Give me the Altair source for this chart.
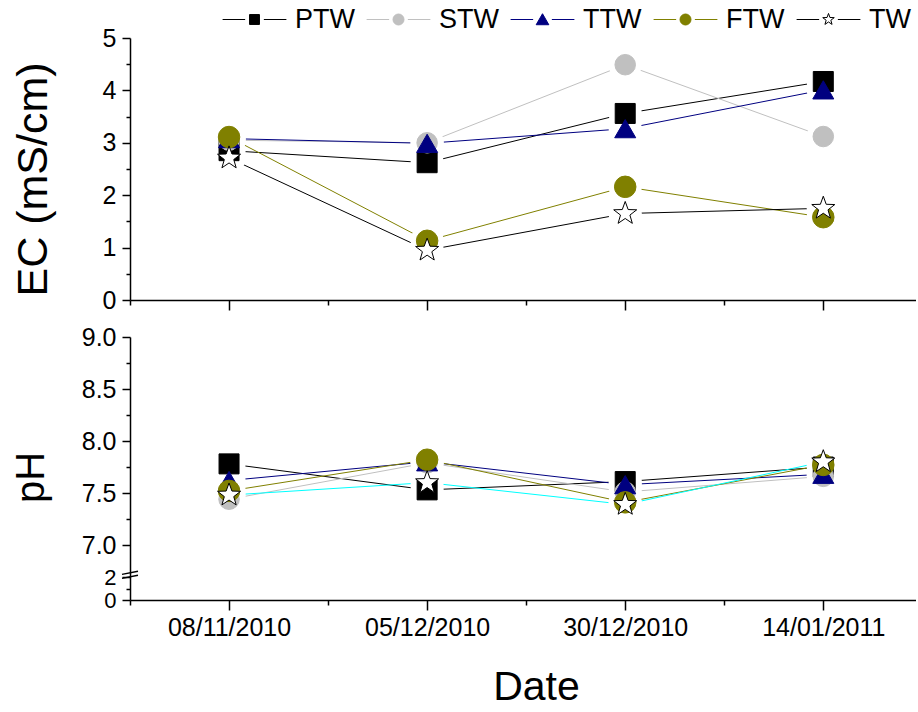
import json
import altair as alt
import pandas as pd

# ---------------- data ----------------
dates = ["08/11/2010", "05/12/2010", "30/12/2010", "14/01/2011"]
series = ["PTW", "STW", "TTW", "FTW", "TW"]

ec_ptw = [2.85, 2.62, 3.56, 4.17]
ec_stw = [3.05, 3.00, 4.49, 3.12]
ec_ttw = [3.08, 2.99, 3.27, 4.01]
ec_ftw = [3.11, 1.13, 2.16, 1.58]
ec_tw = [2.71, 0.95, 1.65, 1.75]

ph_ptw = [7.78, 7.53, 7.61, 7.75]
ph_stw = [7.44, 7.79, 7.51, 7.66]
ph_ttw = [7.62, 7.80, 7.58, 7.68]
ph_ftw = [7.52, 7.82, 7.41, 7.77]
ph_tw = [7.48, 7.60, 7.39, 7.80]

ec_ticks = [0, 0.5, 1, 1.5, 2, 2.5, 3, 3.5, 4, 4.5, 5]
ph_ticks = [0, 1, 2, 7, 7.25, 7.5, 7.75, 8, 8.25, 8.5, 8.75, 9]
ph_major = [0, 2, 7, 7.5, 8, 8.5, 9]
x_ticks = [0.5, 1, 1.5, 2, 2.5, 3, 3.5, 4]
break_at = [{"idx": 0.5, "ph": 4.4}]

# ---------------- styles ----------------
FONT = "Liberation Sans"
line_colors_ec = ["#000000", "#C0C0C0", "#000080", "#808000", "#000000"]
line_colors_ph = ["#000000", "#C0C0C0", "#000080", "#808000", "#00FFFF"]
fill_colors = ["#000000", "#C0C0C0", "#000080", "#808000", "#FFFFFF"]
edge_colors = ["#000000", "#C0C0C0", "#000080", "#808000", "#000000"]
edge_widths = [1, 1, 1, 1, 1.8]
STAR = ("M0,-1.1L0.265,-0.364L1.046,-0.34L0.428,0.139L0.647,0.89L0,0.45"
        "L-0.647,0.89L-0.428,0.139L-1.046,-0.34L-0.265,-0.364Z")
marker_shapes = ["square", "circle", "triangle-up", "circle", STAR]
marker_sizes = [400, 484, 625, 484, 560]
SEG = "M-5.8,0H-1.7M1.7,0H5.8"
legend_shapes = [
    "M-0.9,-0.9H0.9V0.9H-0.9Z" + SEG,
    "M-1,0A1,1,0,1,1,1,0A1,1,0,1,1,-1,0Z" + SEG,
    "M0,-1.05L1.15,0.95H-1.15Z" + SEG,
    "M-1,0A1,1,0,1,1,1,0A1,1,0,1,1,-1,0Z" + SEG,
    STAR + SEG,
]
BREAK = "M-1,0.05L1,-0.35M-1,0.55L1,0.15"

ec_vals = [ec_ptw, ec_stw, ec_ttw, ec_ftw, ec_tw]
ph_vals = [ph_ptw, ph_stw, ph_ttw, ph_ftw, ph_tw]
rows = []
for s, ev, pv in zip(series, ec_vals, ph_vals):
    for i, d in enumerate(dates):
        rows.append({"series": s, "idx": i + 1, "date": d, "ec": ev[i], "ph": pv[i]})
df = pd.DataFrame(rows)
brk = pd.DataFrame(break_at)

# ---------------- axes ----------------
common = dict(domainColor="black", domainWidth=1.5, tickColor="black", tickWidth=1.5,
              labelColor="black", labelFont=FONT, titleFont=FONT,
              titleColor="black", titleFontWeight="normal", grid=False,
              labelOverlap=False, labelFlush=False)

xscale = alt.Scale(domain=[0.5, 4.468], nice=False, zero=False)
x_tick_size = {"condition": {"test": "datum.value % 1 !== 0", "value": 5}, "value": 10}
x_label_expr = "datum.value % 1 === 0 ? " + json.dumps(dates) + "[datum.value - 1] : ''"

x_top = alt.X("idx:Q", scale=xscale,
              axis=alt.Axis(values=x_ticks, labels=False, title=None, labelFontSize=25,
                            tickSize=x_tick_size, **common))
x_bot = alt.X("idx:Q", scale=xscale,
              axis=alt.Axis(values=x_ticks, labelExpr=x_label_expr, title="Date",
                            labelFontSize=25,
                            titleFontSize=41, titlePadding=27, labelPadding=5,
                            titleX=406, tickSize=x_tick_size, **common))

y_top = alt.Y("ec:Q", scale=alt.Scale(domain=[0, 5], nice=False, zero=False),
              axis=alt.Axis(values=ec_ticks, title="EC (mS/cm)", titleFontSize=43,
                            titleX=-75, titleY=141, labelPadding=6, labelFontSize=25,
                            labelExpr="datum.value % 1 === 0 ? format(datum.value, 'd') : ''",
                            tickSize={"condition": {"test": "datum.value % 1 !== 0", "value": 4},
                                      "value": 8},
                            **common))
minor_ph = "indexof(" + json.dumps(ph_major) + ", datum.value) < 0"
y_bot = alt.Y("ph:Q",
              scale=alt.Scale(domain=[0, 2, 6.75, 9], range=[263, 240, 234, 0],
                              nice=False, zero=False),
              axis=alt.Axis(values=ph_ticks, title="pH", titleFontSize=40,
                            titleX=-79, titleY=140, labelPadding=6,
                            labelFontSize={"condition": {"test": "datum.value < 5", "value": 22},
                                           "value": 25},
                            labelExpr=minor_ph + " ? '' : (datum.value < 5 ? format(datum.value, 'd') : format(datum.value, '.1f'))",
                            tickSize={"condition": {"test": minor_ph, "value": 4}, "value": 8},
                            **common))


def sc(rng):
    return alt.Scale(domain=series, range=rng)


def panel(x, y, line_colors, with_legend):
    base = alt.Chart(df)
    lines = base.mark_line(strokeWidth=1).encode(
        x=x, y=y, color=alt.Color("series:N", scale=sc(line_colors), legend=None))
    halo = base.mark_circle(size=1100, color="white", opacity=1).encode(x=x, y=y)
    pts = base.mark_point(filled=True, opacity=1).encode(
        x=x, y=y,
        shape=alt.Shape("series:N", scale=sc(marker_shapes), legend=None),
        fill=alt.Fill("series:N", scale=sc(fill_colors), legend=None),
        stroke=alt.Stroke("series:N", scale=sc(edge_colors), legend=None),
        size=alt.Size("series:N", scale=sc(marker_sizes), legend=None),
        strokeWidth=alt.StrokeWidth("series:N", scale=sc(edge_widths), legend=None),
    )
    layers = [lines, halo, pts]
    if with_legend:
        leg = alt.Legend(orient="none", legendX=111, legendY=-32, direction="horizontal",
                         columns=5, title=None, labelFont=FONT, labelFontSize=27,
                         labelColor="black", labelOffset=27, columnPadding=9,
                         symbolSize=121, symbolStrokeWidth=1, symbolOpacity=1,
                         padding=0, gridAlign="none", labelBaseline="middle")
        legend_layer = base.mark_point(filled=True, opacity=1).encode(
            x=x, y=y,
            shape=alt.Shape("series:N", scale=sc(legend_shapes), legend=leg),
            fill=alt.Fill("series:N", scale=sc(fill_colors), legend=leg),
            stroke=alt.Stroke("series:N", scale=sc(edge_colors), legend=leg),
        ).transform_filter("false")
        layers.append(legend_layer)
    return alt.layer(*layers).resolve_scale(
        shape="independent", fill="independent", stroke="independent",
        size="independent", strokeWidth="independent", color="independent")


top = panel(x_top, y_top, line_colors_ec, True).properties(width=786, height=262)

bottom_layers = panel(x_bot, y_bot, line_colors_ph, False)
brk_layer = alt.Chart(brk).mark_point(shape=BREAK, size=256, filled=False, stroke="black",
                                      strokeWidth=1.5, opacity=1).encode(x=x_bot, y=y_bot)
bottom = alt.layer(bottom_layers, brk_layer).properties(width=786, height=263)

chart = alt.vconcat(top, bottom, spacing=37).resolve_scale(
    color="independent", fill="independent", stroke="independent",
    shape="independent", size="independent", strokeWidth="independent"
).properties(
    bounds="flush", padding={"left": 11, "top": 6, "right": 0, "bottom": 0}
).configure(background="white").configure_view(strokeWidth=0)

chart.save("out.html", embed_options={"renderer": "svg", "actions": False})
